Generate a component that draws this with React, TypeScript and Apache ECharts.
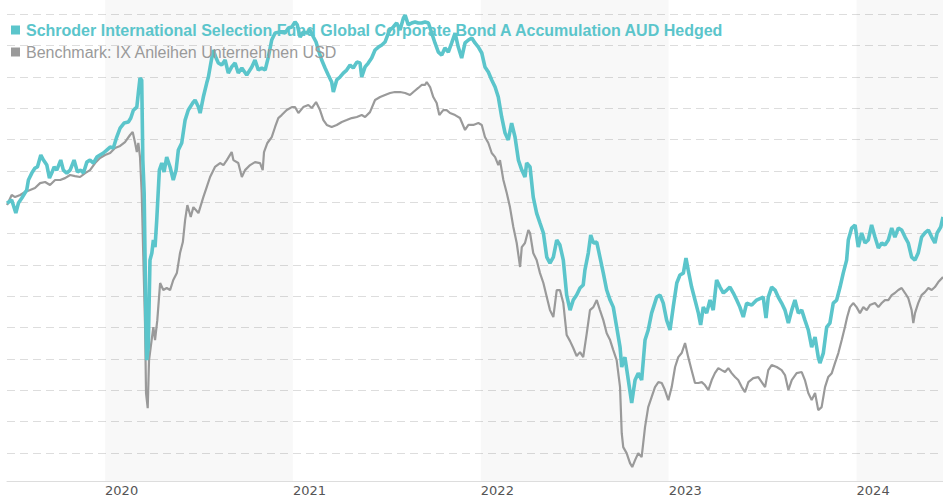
import React, { useEffect, useRef } from "react";
import * as echarts from "echarts";

const FUND_NAME = "Schroder International Selection Fund Global Corporate Bond A Accumulation AUD Hedged";
const BENCH_NAME = "Benchmark: IX Anleihen Unternehmen USD";
const YEAR_LABELS = [2020, 2021, 2022, 2023, 2024];
const SHADED_YEARS = [2020, 2022, 2024];
const X_MIN = 2019.478;
const X_MAX = 2024.46;
const Y_MIN = 82.22;
const Y_MAX = 112.9;
const TEAL = "#5bc5cb";
const GREY = "#9a9a9a";

// [decimal year, indexed value]
const fund: [number, number][] = [
  [2019.478, 99.93], [2019.503, 100.14], [2019.525, 99.31], [2019.539, 99.95], [2019.557, 100.27], [2019.583, 100.78], [2019.592, 101.42], [2019.61, 101.86], [2019.627, 102.18], [2019.64, 102.25], [2019.658, 103.01], [2019.672, 102.69], [2019.69, 102.37], [2019.704, 101.54], [2019.716, 101.86], [2019.729, 102.25], [2019.743, 102.05], [2019.764, 102.69], [2019.778, 102.05], [2019.796, 101.86], [2019.814, 102.05], [2019.835, 102.69], [2019.853, 101.93], [2019.871, 102.05], [2019.885, 101.86], [2019.903, 102.56], [2019.92, 102.69], [2019.938, 102.5], [2019.956, 102.88], [2019.973, 103.01], [2019.991, 103.14],
  [2020.009, 103.33], [2020.027, 103.52], [2020.044, 103.46], [2020.062, 104.16], [2020.08, 104.73], [2020.101, 105.05], [2020.124, 105.12], [2020.137, 105.37], [2020.151, 105.88], [2020.169, 106.07], [2020.177, 106.97], [2020.186, 107.92], [2020.195, 107.79], [2020.201, 102.69], [2020.208, 100.59], [2020.213, 96.31], [2020.218, 92.04], [2020.222, 89.93], [2020.23, 90.76], [2020.239, 96.31], [2020.249, 96.76], [2020.257, 97.59], [2020.266, 97.14], [2020.275, 98.86], [2020.289, 102.05], [2020.302, 102.5], [2020.314, 101.93], [2020.328, 102.88], [2020.346, 102.25], [2020.363, 101.42], [2020.378, 102.05], [2020.39, 103.33], [2020.408, 103.78], [2020.426, 105.24], [2020.443, 105.88], [2020.47, 106.39], [2020.479, 106.52], [2020.497, 106.07], [2020.506, 105.69], [2020.523, 106.71], [2020.541, 107.6], [2020.55, 107.99], [2020.563, 108.88], [2020.576, 109.71], [2020.591, 109.2], [2020.603, 108.88], [2020.621, 108.75], [2020.639, 109.07], [2020.656, 108.24], [2020.674, 108.63], [2020.692, 108.88], [2020.709, 108.24], [2020.728, 108.56], [2020.754, 108.12], [2020.781, 108.63], [2020.798, 109.07], [2020.816, 108.43], [2020.834, 108.56], [2020.852, 108.43], [2020.869, 109.26], [2020.887, 110.35], [2020.905, 110.79], [2020.931, 110.86], [2020.958, 110.79], [2020.976, 111.11], [2020.994, 111.18],
  [2021.011, 111.5], [2021.023, 111.31], [2021.038, 110.54], [2021.055, 110.86], [2021.073, 110.79], [2021.091, 110.99], [2021.109, 110.54], [2021.123, 110.22], [2021.135, 109.71], [2021.153, 109.07], [2021.171, 108.56], [2021.188, 108.12], [2021.206, 107.67], [2021.215, 107.03], [2021.233, 107.8], [2021.251, 107.99], [2021.268, 108.24], [2021.286, 108.43], [2021.304, 108.75], [2021.321, 108.56], [2021.34, 108.94], [2021.357, 108.88], [2021.366, 107.99], [2021.384, 108.63], [2021.401, 108.88], [2021.419, 109.2], [2021.437, 109.71], [2021.455, 109.9], [2021.473, 110.03], [2021.49, 110.22], [2021.508, 110.79], [2021.517, 110.99], [2021.534, 111.18], [2021.552, 111.43], [2021.57, 110.99], [2021.588, 111.75], [2021.597, 111.94], [2021.614, 111.31], [2021.632, 111.43], [2021.65, 111.5], [2021.667, 111.43], [2021.685, 111.43], [2021.703, 111.5], [2021.721, 111.43], [2021.739, 110.79], [2021.756, 110.16], [2021.774, 109.58], [2021.792, 109.39], [2021.809, 109.84], [2021.827, 109.58], [2021.845, 110.16], [2021.863, 110.79], [2021.88, 109.9], [2021.898, 109.2], [2021.916, 110.16], [2021.934, 110.35], [2021.952, 110.48], [2021.969, 110.16], [2021.987, 109.9],
  [2022.005, 109.52], [2022.022, 108.63], [2022.04, 108.31], [2022.058, 107.8], [2022.076, 107.35], [2022.093, 106.71], [2022.111, 105.44], [2022.129, 104.41], [2022.146, 103.97], [2022.164, 105.05], [2022.182, 104.16], [2022.2, 102.69], [2022.218, 102.05], [2022.235, 101.61], [2022.244, 102.5], [2022.262, 102.25], [2022.279, 100.33], [2022.297, 99.31], [2022.315, 98.67], [2022.333, 98.04], [2022.351, 96.5], [2022.368, 96.12], [2022.386, 96.5], [2022.404, 97.59], [2022.421, 97.27], [2022.439, 96.31], [2022.457, 94.08], [2022.475, 93.12], [2022.492, 93.76], [2022.51, 94.08], [2022.528, 94.53], [2022.545, 94.72], [2022.554, 95.67], [2022.572, 96.76], [2022.585, 97.91], [2022.599, 97.4], [2022.617, 97.46], [2022.634, 96.5], [2022.652, 95.48], [2022.67, 94.4], [2022.688, 93.76], [2022.705, 93.31], [2022.723, 92.04], [2022.741, 90.76], [2022.75, 89.49], [2022.767, 90.12], [2022.785, 88.66], [2022.803, 87.19], [2022.821, 88.66], [2022.838, 89.1], [2022.856, 88.66], [2022.874, 91.21], [2022.891, 91.85], [2022.909, 92.93], [2022.936, 93.95], [2022.954, 94.08], [2022.971, 93.57], [2022.989, 92.48],
  [2023.007, 91.85], [2023.024, 93.31], [2023.043, 94.85], [2023.06, 95.36], [2023.078, 95.48], [2023.092, 96.44], [2023.104, 95.67], [2023.122, 94.59], [2023.14, 93.76], [2023.158, 92.93], [2023.17, 92.17], [2023.184, 93.31], [2023.202, 92.93], [2023.22, 93.76], [2023.237, 93.12], [2023.255, 95.04], [2023.273, 94.59], [2023.291, 94.21], [2023.309, 94.4], [2023.326, 94.59], [2023.344, 94.21], [2023.362, 93.76], [2023.379, 93.31], [2023.397, 92.68], [2023.415, 93.57], [2023.442, 93.44], [2023.468, 93.76], [2023.503, 93.95], [2023.518, 92.61], [2023.53, 93.95], [2023.548, 94.59], [2023.566, 94.4], [2023.583, 93.95], [2023.601, 93.57], [2023.619, 93.12], [2023.637, 92.29], [2023.655, 93.12], [2023.672, 93.76], [2023.69, 92.93], [2023.708, 93.12], [2023.725, 92.48], [2023.743, 91.85], [2023.761, 90.76], [2023.779, 91.4], [2023.796, 90.12], [2023.805, 89.74], [2023.823, 90.38], [2023.841, 92.04], [2023.858, 92.29], [2023.876, 93.57], [2023.894, 93.76], [2023.912, 94.59], [2023.929, 95.48], [2023.947, 96.31], [2023.956, 97.59], [2023.974, 98.35], [2023.992, 98.55],
  [2024.009, 97.14], [2024.027, 98.04], [2024.045, 97.4], [2024.062, 97.59], [2024.08, 98.55], [2024.098, 97.78], [2024.116, 97.08], [2024.134, 97.4], [2024.151, 97.27], [2024.169, 97.59], [2024.187, 98.35], [2024.204, 97.78], [2024.222, 98.35], [2024.24, 98.23], [2024.258, 97.78], [2024.275, 97.4], [2024.293, 96.5], [2024.311, 96.31], [2024.328, 96.76], [2024.346, 97.78], [2024.364, 98.04], [2024.382, 98.23], [2024.4, 97.78], [2024.417, 97.4], [2024.429, 98.04], [2024.448, 98.42], [2024.46, 99.06],
];

const bench: [number, number][] = [
  [2019.478, 99.82], [2019.503, 100.46], [2019.521, 100.33], [2019.548, 100.46], [2019.574, 100.65], [2019.601, 100.78], [2019.627, 100.91], [2019.654, 101.22], [2019.681, 101.29], [2019.707, 101.1], [2019.734, 101.42], [2019.761, 101.42], [2019.787, 101.54], [2019.814, 101.74], [2019.84, 101.67], [2019.867, 101.61], [2019.894, 101.86], [2019.92, 102.05], [2019.947, 102.5], [2019.973, 102.82],
  [2020.0, 103.01], [2020.027, 103.14], [2020.053, 103.46], [2020.08, 103.59], [2020.106, 103.84], [2020.133, 104.29], [2020.147, 104.48], [2020.16, 103.78], [2020.169, 103.2], [2020.177, 103.78], [2020.186, 102.88], [2020.195, 100.59], [2020.204, 96.31], [2020.213, 92.04], [2020.218, 87.83], [2020.227, 86.87], [2020.234, 89.93], [2020.243, 90.76], [2020.257, 92.04], [2020.266, 91.21], [2020.278, 92.48], [2020.293, 94.85], [2020.31, 94.4], [2020.328, 94.53], [2020.346, 94.4], [2020.363, 95.04], [2020.382, 95.48], [2020.399, 96.76], [2020.414, 97.46], [2020.426, 98.86], [2020.438, 99.82], [2020.456, 99.06], [2020.47, 99.69], [2020.497, 99.31], [2020.523, 100.33], [2020.541, 100.97], [2020.559, 101.61], [2020.585, 102.25], [2020.612, 102.5], [2020.63, 102.37], [2020.648, 102.69], [2020.674, 103.2], [2020.683, 102.69], [2020.709, 102.5], [2020.728, 101.61], [2020.745, 102.05], [2020.772, 102.37], [2020.798, 102.56], [2020.825, 102.5], [2020.839, 102.05], [2020.846, 103.2], [2020.864, 103.78], [2020.887, 104.16], [2020.905, 104.8], [2020.922, 105.37], [2020.94, 105.56], [2020.967, 105.88], [2020.994, 106.07],
  [2021.011, 106.07], [2021.029, 105.69], [2021.055, 106.07], [2021.082, 106.2], [2021.1, 106.01], [2021.123, 106.39], [2021.144, 105.88], [2021.162, 105.24], [2021.18, 104.93], [2021.206, 104.8], [2021.233, 104.93], [2021.26, 105.12], [2021.286, 105.24], [2021.313, 105.37], [2021.34, 105.44], [2021.366, 105.56], [2021.384, 105.44], [2021.41, 105.75], [2021.437, 106.52], [2021.464, 106.71], [2021.49, 106.84], [2021.517, 106.97], [2021.543, 107.03], [2021.57, 107.03], [2021.597, 106.97], [2021.623, 106.84], [2021.641, 107.03], [2021.667, 107.29], [2021.685, 107.48], [2021.703, 107.48], [2021.712, 107.67], [2021.73, 107.35], [2021.747, 106.71], [2021.765, 106.33], [2021.779, 105.56], [2021.8, 105.88], [2021.818, 105.88], [2021.836, 105.69], [2021.863, 105.56], [2021.889, 105.37], [2021.916, 104.61], [2021.934, 104.93], [2021.96, 104.93], [2021.987, 105.05],
  [2022.005, 104.93], [2022.022, 104.16], [2022.04, 103.78], [2022.058, 103.14], [2022.076, 102.88], [2022.093, 102.37], [2022.102, 102.69], [2022.12, 101.42], [2022.138, 100.59], [2022.155, 99.69], [2022.173, 98.42], [2022.191, 97.4], [2022.209, 95.87], [2022.218, 97.14], [2022.235, 97.4], [2022.253, 98.23], [2022.262, 98.04], [2022.279, 96.76], [2022.297, 96.31], [2022.315, 95.48], [2022.333, 94.85], [2022.351, 93.95], [2022.368, 93.12], [2022.386, 92.68], [2022.404, 94.4], [2022.421, 94.4], [2022.439, 93.57], [2022.457, 91.53], [2022.475, 91.14], [2022.492, 90.7], [2022.51, 90.19], [2022.528, 90.44], [2022.545, 90.12], [2022.564, 91.65], [2022.581, 93.12], [2022.599, 93.31], [2022.617, 93.76], [2022.634, 93.12], [2022.652, 92.48], [2022.67, 91.65], [2022.688, 91.21], [2022.705, 90.57], [2022.723, 89.93], [2022.741, 88.21], [2022.75, 85.27], [2022.758, 84.38], [2022.776, 84.0], [2022.794, 83.36], [2022.806, 83.11], [2022.821, 83.55], [2022.838, 84.0], [2022.856, 83.74], [2022.874, 85.66], [2022.891, 86.93], [2022.909, 87.57], [2022.927, 88.21], [2022.945, 88.53], [2022.963, 88.47], [2022.98, 88.02], [2022.998, 87.38],
  [2023.016, 88.21], [2023.034, 89.49], [2023.051, 90.12], [2023.069, 90.38], [2023.087, 91.02], [2023.104, 90.12], [2023.122, 89.29], [2023.14, 88.47], [2023.158, 88.47], [2023.176, 88.53], [2023.193, 88.34], [2023.211, 88.02], [2023.229, 88.66], [2023.246, 89.1], [2023.264, 89.42], [2023.282, 89.29], [2023.3, 89.17], [2023.317, 89.42], [2023.335, 89.1], [2023.353, 88.85], [2023.37, 88.66], [2023.389, 88.21], [2023.406, 87.89], [2023.424, 88.53], [2023.45, 88.78], [2023.477, 88.85], [2023.513, 88.21], [2023.53, 89.29], [2023.548, 89.61], [2023.575, 89.49], [2023.601, 89.29], [2023.619, 88.98], [2023.637, 88.02], [2023.655, 88.66], [2023.681, 89.1], [2023.708, 89.17], [2023.725, 88.66], [2023.743, 87.83], [2023.761, 87.38], [2023.779, 87.83], [2023.796, 86.74], [2023.814, 86.93], [2023.832, 88.21], [2023.849, 88.85], [2023.868, 89.1], [2023.885, 89.74], [2023.903, 90.38], [2023.921, 91.21], [2023.938, 92.04], [2023.95, 92.68], [2023.965, 93.31], [2023.982, 93.57],
  [2024.0, 93.31], [2024.018, 92.93], [2024.036, 93.31], [2024.054, 93.12], [2024.071, 93.44], [2024.098, 93.57], [2024.116, 93.31], [2024.134, 93.57], [2024.151, 93.76], [2024.169, 93.76], [2024.187, 94.08], [2024.204, 94.21], [2024.222, 94.4], [2024.24, 94.53], [2024.258, 94.21], [2024.275, 93.89], [2024.293, 93.12], [2024.302, 92.29], [2024.311, 92.93], [2024.328, 93.57], [2024.346, 94.08], [2024.364, 94.27], [2024.382, 94.53], [2024.4, 94.4], [2024.417, 94.59], [2024.435, 94.91], [2024.46, 95.23],
];

export default function App() {
  const ref = useRef<HTMLDivElement>(null);
  useEffect(() => {
    if (!ref.current) return;
    const chart = echarts.init(ref.current, undefined, { renderer: "svg" });
    const bands = SHADED_YEARS.map((y) => [
      { xAxis: y },
      { xAxis: Math.min(y + 1, X_MAX) },
    ]);
    chart.setOption({
      animation: false,
      backgroundColor: "#ffffff",
      grid: { left: 7, right: 0, top: 0, bottom: 19, containLabel: false },
      legend: {
        orient: "vertical",
        left: 11,
        top: 22,
        itemWidth: 9,
        itemHeight: 9,
        itemGap: 6,
        padding: 0,
        icon: "rect",
        selectedMode: false,
        data: [
          { name: FUND_NAME, textStyle: { color: TEAL, fontWeight: "bold" } },
          { name: BENCH_NAME, textStyle: { color: GREY, fontWeight: "normal" } },
        ],
        textStyle: { fontFamily: "Liberation Sans, Arial, sans-serif", fontSize: 16, padding: [0, 0, 0, 1] },
      },
      xAxis: {
        type: "value",
        min: X_MIN,
        max: X_MAX,
        axisLine: { show: true, lineStyle: { color: "#dddddd", width: 1 } },
        axisTick: { show: false },
        splitLine: { show: false },
        axisLabel: {
          customValues: YEAR_LABELS,
          formatter: (v: number) => String(Math.round(v)),
          align: "left",
          color: "#555555",
          fontSize: 13,
          fontFamily: "DejaVu Sans, Verdana, sans-serif",
          margin: 3,
          showMinLabel: true,
          showMaxLabel: true,
        },
      },
      yAxis: {
        type: "value",
        min: Y_MIN,
        max: Y_MAX,
        splitNumber: 15,
        minInterval: 2,
        maxInterval: 2,
        axisLine: { show: false },
        axisTick: { show: false },
        axisLabel: { show: false },
        splitLine: {
          show: true,
          showMinLine: false,
          showMaxLine: false,
          lineStyle: { color: "#dddddd", width: 1, type: [8, 5] },
        },
      },
      series: [
        {
          name: BENCH_NAME,
          type: "line",
          data: bench,
          showSymbol: false,
          symbol: "none",
          color: GREY,
          lineStyle: { color: GREY, width: 2.2 },
          z: 2,
          markArea: {
            silent: true,
            itemStyle: { color: "rgba(0,0,0,0.028)" },
            data: bands,
          },
        },
        {
          name: FUND_NAME,
          type: "line",
          data: fund,
          showSymbol: false,
          symbol: "none",
          color: TEAL,
          lineStyle: { color: TEAL, width: 3.6 },
          z: 3,
        },
      ],
    });
    return () => chart.dispose();
  }, []);
  return (
    <div
      ref={ref}
      style={{ position: "fixed", left: 0, top: 0, width: 943, height: 500, background: "#fff" }}
    />
  );
}
